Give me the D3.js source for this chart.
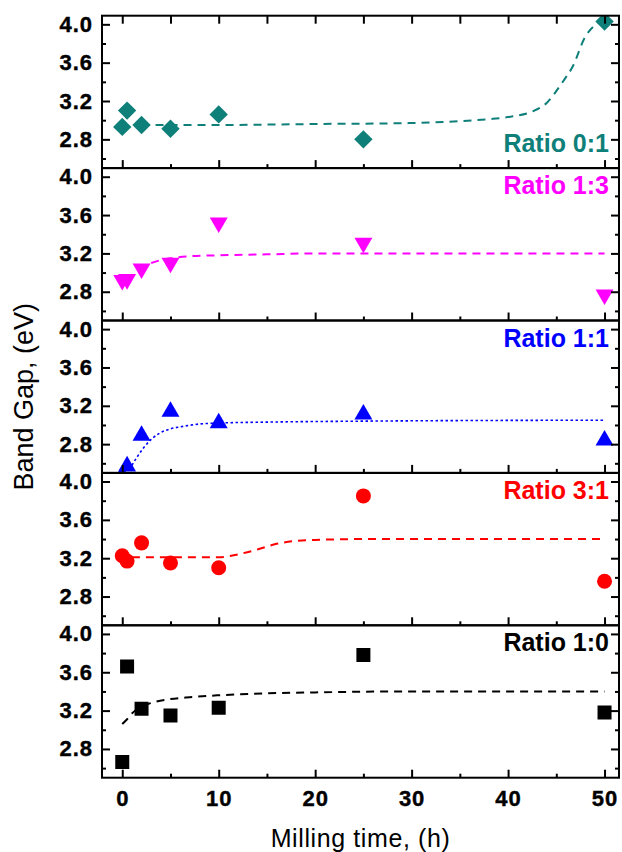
<!DOCTYPE html>
<html>
<head>
<meta charset="utf-8">
<title>Band gap vs milling time</title>
<script src="https://d3js.org/d3.v7.min.js"></script>
<style>
  body { margin: 0; background: #fff; }
  svg text { font-family: "Liberation Sans", Arial, sans-serif; }
  .axis path { display: none; }
  .axis line { stroke: #000; stroke-width: 2; }
  .axis .tick text { font-weight: bold; font-size: 22px; letter-spacing: 1px; fill: #000; stroke: #000; stroke-width: 0.4px; }
</style>
</head>
<body>
<script>
// milling times (h) shared by every series
var times = [0, 0.5, 2, 5, 10, 25, 50];

// measured band gaps (eV)
var ratio01 = [2.93, 3.10, 2.95, 2.91, 3.06, 2.80, 4.03];
var ratio13 = [2.92, 2.93, 3.04, 3.10, 3.52, 3.31, 2.77];
var ratio11 = [2.47, 2.57, 2.89, 3.14, 3.02, 3.11, 2.84];
var ratio31 = [3.225, 3.17, 3.36, 3.15, 3.10, 3.85, 2.96];
var ratio10 = [2.665, 3.66, 3.22, 3.15, 3.23, 3.78, 3.18];

// guide-to-the-eye curves
var fit01X = [2, 10, 20, 30, 35, 38, 40.5, 42.5, 44, 45.6, 46.7, 48, 49, 50];
var fit01Y = [2.95, 2.95, 2.96, 2.97, 2.99, 3.01, 3.04, 3.09, 3.18, 3.39, 3.56, 3.87, 3.99, 4.04];
var fit13X = [3, 4, 5, 7, 10, 15, 20, 50];
var fit13Y = [3.10, 3.13, 3.15, 3.17, 3.18, 3.19, 3.20, 3.20];
var fit11X = [1, 1.5, 2.2, 3, 3.8, 5, 6, 8, 10, 15, 25, 50];
var fit11Y = [2.58, 2.66, 2.76, 2.85, 2.91, 2.96, 2.98, 3.01, 3.02, 3.03, 3.04, 3.05];
var fit31X = [1, 3, 6, 10, 11, 12, 14, 16, 18, 20, 25, 50];
var fit31Y = [3.21, 3.21, 3.21, 3.21, 3.22, 3.24, 3.29, 3.35, 3.38, 3.39, 3.40, 3.40];
var fit10X = [0, 0.5, 1, 2, 3, 5, 7, 10, 15, 20, 30, 50];
var fit10Y = [3.06, 3.11, 3.17, 3.24, 3.28, 3.32, 3.34, 3.36, 3.38, 3.39, 3.40, 3.40];

var labels = ["Ratio 0:1", "Ratio 1:3", "Ratio 1:1", "Ratio 3:1", "Ratio 1:0"];

var yMajor = [2.8, 3.2, 3.6, 4.0];
var yMinor = [2.6, 3.0, 3.4, 3.8];
var xMajor = [0, 10, 20, 30, 40, 50];
var xMinor = [5, 15, 25, 35, 45];

var panels = [
  {values: ratio01, fx: fit01X, fy: fit01Y, label: labels[0]},
  {values: ratio13, fx: fit13X, fy: fit13Y, label: labels[1]},
  {values: ratio11, fx: fit11X, fy: fit11Y, label: labels[2]},
  {values: ratio31, fx: fit31X, fy: fit31Y, label: labels[3]},
  {values: ratio10, fx: fit10X, fy: fit10Y, label: labels[4]}
];

// look of each panel
var styles = [
  {color: "#0f7f7a", shape: d3.symbolSquare, size: 169, rotate: 45, dash: "8,6", width: 2, labelAtBottom: true},
  {color: "#ff00ff", shape: d3.symbolTriangle, size: 140, rotate: 180, dash: "8,6", width: 2},
  {color: "#0000ff", shape: d3.symbolTriangle, size: 140, rotate: 0, dash: "2.5,2.5", width: 1.6},
  {color: "#ff0000", shape: d3.symbolCircle, size: 177, rotate: 0, dash: "8,6", width: 2},
  {color: "#000000", shape: d3.symbolSquare, size: 196, rotate: 0, dash: "8,6", width: 2}
];

var margin = {top: 15.7, left: 102},
  plotW = 517,
  panelH = 152.4;

var svg = d3.select("body").append("svg")
  .attr("width", 622)
  .attr("height", 852);

svg.append("defs").append("clipPath")
  .attr("id", "clip")
  .append("rect")
  .attr("width", plotW)
  .attr("height", panelH);

var x = d3.scaleLinear().domain([-2.1, 51.5]).range([0, plotW]);
var y = d3.scaleLinear().domain([2.5, 4.09]).range([panelH, 0]);

var line = d3.line()
  .x(function(d) { return x(d[0]); })
  .y(function(d) { return y(d[1]); })
  .curve(d3.curveMonotoneX);

panels.forEach(function(p, i) {
  var st = styles[i];
  var last = i === panels.length - 1;
  var g = svg.append("g")
    .attr("transform", "translate(" + margin.left + "," + (margin.top + i * panelH) + ")");

  var inner = g.append("g").attr("clip-path", "url(#clip)");

  inner.append("path")
    .datum(p.fx.map(function(t, k) { return [t, p.fy[k]]; }))
    .attr("d", line)
    .attr("fill", "none")
    .attr("stroke", st.color)
    .attr("stroke-width", st.width)
    .attr("stroke-dasharray", st.dash);

  inner.selectAll(".pt")
    .data(p.values)
    .enter()
    .append("path")
    .attr("class", "pt")
    .attr("d", d3.symbol().type(st.shape).size(st.size))
    .attr("transform", function(d, k) {
      return "translate(" + x(times[k]) + "," + y(d) + ") rotate(" + st.rotate + ")";
    })
    .attr("fill", st.color);

  // left axis
  g.append("g").attr("class", "axis")
    .call(d3.axisLeft(y).tickValues(yMajor).tickSize(-8).tickPadding(9).tickFormat(d3.format(".1f")));
  g.append("g").attr("class", "axis")
    .call(d3.axisLeft(y).tickValues(yMinor).tickSize(-4).tickFormat(""));
  // right axis
  g.append("g").attr("class", "axis")
    .attr("transform", "translate(" + plotW + ",0)")
    .call(d3.axisRight(y).tickValues(yMajor).tickSize(-8).tickFormat(""));
  g.append("g").attr("class", "axis")
    .attr("transform", "translate(" + plotW + ",0)")
    .call(d3.axisRight(y).tickValues(yMinor).tickSize(-4).tickFormat(""));
  // bottom axis
  g.append("g").attr("class", "axis")
    .attr("transform", "translate(0," + panelH + ")")
    .call(d3.axisBottom(x).tickValues(xMajor).tickSize(-8).tickPadding(13)
      .tickFormat(last ? d3.format("d") : ""));
  g.append("g").attr("class", "axis")
    .attr("transform", "translate(0," + panelH + ")")
    .call(d3.axisBottom(x).tickValues(xMinor).tickSize(-4).tickFormat(""));
  if (i === 0) {
    g.append("g").attr("class", "axis")
      .call(d3.axisTop(x).tickValues(xMajor.concat(xMinor)).tickSize(-8).tickFormat(""));
  }

  g.append("rect")
    .attr("width", plotW)
    .attr("height", panelH)
    .attr("fill", "none")
    .attr("stroke", "#000")
    .attr("stroke-width", 2);

  g.append("text")
    .attr("x", 507)
    .attr("y", st.labelAtBottom ? panelH - 16 : 26)
    .attr("text-anchor", "end")
    .style("font-size", "25px")
    .style("font-weight", "bold")
    .attr("fill", st.color)
    .text(p.label);
});

svg.append("text")
  .attr("transform", "rotate(-90)")
  .attr("x", -(margin.top + 2.5 * panelH))
  .attr("y", 33)
  .attr("text-anchor", "middle")
  .style("font-size", "27px")
  .text("Band Gap, (eV)");

svg.append("text")
  .attr("x", margin.left + plotW / 2)
  .attr("y", 847)
  .attr("text-anchor", "middle")
  .style("font-size", "25px")
  .style("letter-spacing", "0.6px")
  .text("Milling time, (h)");
</script>
</body>
</html>
